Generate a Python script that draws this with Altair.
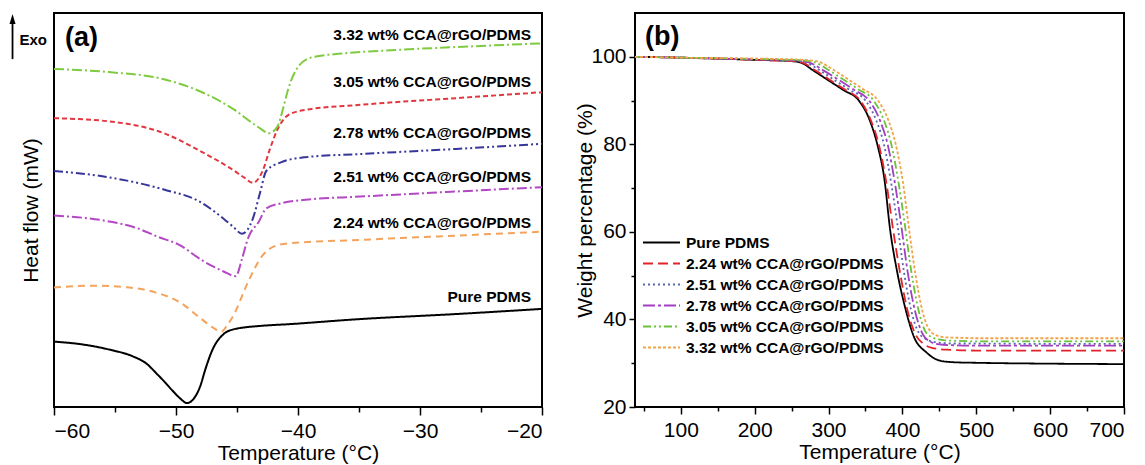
import altair as alt
import pandas as pd

FONT = "Liberation Sans"

# ---------------- (a) DSC curves ----------------
series = ["Pure PDMS", "2.24 wt% CCA@rGO/PDMS", "2.51 wt% CCA@rGO/PDMS",
          "2.78 wt% CCA@rGO/PDMS", "3.05 wt% CCA@rGO/PDMS", "3.32 wt% CCA@rGO/PDMS"]

dsc_T_pure = [-60, -57.5, -55.5, -53.5, -52.5, -51.5, -50.85, -50.3, -49.7, -49.1, -48.5, -48, -47.6, -47, -46.1, -45.3, -43, -40.85, -35, -27, -20]
dsc_H_pure = [16.6, 15.8, 14.6, 12.8, 11.2, 8.2, 6.1, 4.2, 2.3, 1.0, 2.3, 5.4, 9.5, 14.6, 18.5, 19.7, 20.6, 21.0, 22.3, 23.6, 24.9]

dsc_T_224 = [-60, -57, -54.1, -51.7, -49.7, -47.9, -46.9, -46.3, -45.8, -45.3, -44.1, -42.9, -42, -40.8, -35, -27, -20]
dsc_H_224 = [30.3, 30.8, 30.4, 29.1, 26.6, 22.3, 20.0, 19.1, 20.8, 23.2, 31.7, 38.5, 40.7, 41.5, 42.4, 43.5, 44.5]

dsc_T_251 = [-60, -55.5, -53.2, -51.5, -49.7, -47.9, -46.1, -45.1, -44.6, -44.1, -43.2, -42.6, -41.4, -39.4, -34.9, -27, -20]
dsc_H_251 = [48.6, 47.1, 45.4, 43.2, 41.1, 37.3, 34.4, 33.2, 37.5, 42.8, 47.1, 50.4, 51.7, 52.6, 53.4, 54.7, 55.8]

dsc_T_278 = [-60, -55.5, -51, -48.1, -46.1, -45.3, -44.6, -43.7, -43.1, -42.6, -41.4, -39.4, -34.9, -27, -20]
dsc_H_278 = [59.9, 58.3, 55.2, 52.2, 47.8, 45.7, 44.0, 47.8, 54.5, 59.9, 62.1, 63.4, 64.2, 65.5, 66.8]

dsc_T_305 = [-60, -55.5, -51, -48.1, -45.2, -44.4, -43.7, -42.9, -42.3, -41.7, -40.8, -39.4, -34.9, -27, -20]
dsc_H_305 = [73.3, 72.5, 69.5, 65.1, 59.9, 58.2, 56.9, 59.9, 65.5, 70.3, 74.1, 75.4, 76.7, 78.4, 79.9]

dsc_T_332 = [-60, -55.5, -51, -48.1, -45.2, -43.8, -43.1, -42.4, -41.7, -41.2, -40.8, -39.9, -38.8, -36.4, -32, -26, -20]
dsc_H_332 = [85.8, 85.0, 83.2, 80.2, 75.4, 72.2, 70.7, 69.5, 71.1, 76.0, 80.7, 86.7, 88.8, 89.7, 90.6, 91.5, 92.3]

dsc_label_H = [27.8, 46.7, 58.4, 69.5, 82.5, 94.4]

dsc_colors = ["#000000", "#f4a35c", "#b347c4", "#35359a", "#e2373f", "#7fcb3e"]
dsc_dashes = [[1, 0], [7, 5], [10, 3, 2, 3], [9, 3, 2, 3, 2, 3], [5, 3], [10, 3, 2, 3]]

dsc_major = [-60, -50, -40, -30, -20]
dsc_minor = [-55, -45, -35, -25]

# annotation: "Exo" arrow (data units of panel a)
exo_T = -62.83
exo_H = 91.9
arrow_T = -63.4
arrow_H_low = 88.3
arrow_H_high = 97.2
arrow_H_head = 98.5

# ---------------- (b) TGA curves ----------------
tga_T_pure = [38, 100, 200, 250, 262, 280, 300, 320, 341, 356, 366, 376, 383, 393, 403, 415, 433, 453, 473, 500, 600, 700]
tga_W_pure = [100, 99.8, 99.3, 99.0, 98.7, 96.8, 94.6, 92.4, 90.0, 85.4, 80.0, 71.6, 61.0, 50.8, 43.2, 36.3, 32.4, 30.5, 30.2, 30.1, 29.9, 29.8]

tga_T_224 = [38, 100, 200, 250, 264, 282, 302, 322, 343, 358, 368, 379, 387, 397, 407, 418, 428, 440, 460, 500, 600, 700]
tga_W_224 = [100, 99.8, 99.3, 99.0, 98.7, 96.9, 94.7, 92.5, 90.0, 85.2, 80.0, 70.5, 61.0, 50.5, 42.0, 36.5, 34.5, 33.5, 33.1, 32.9, 32.9, 32.9]

tga_T_251 = [38, 100, 200, 255, 268, 288, 308, 328, 350, 365, 375, 385, 393, 402, 412, 422, 432, 445, 470, 500, 600, 700]
tga_W_251 = [100, 99.8, 99.4, 99.1, 98.8, 96.9, 94.7, 92.5, 90.0, 85.3, 80.0, 71.0, 62.0, 51.0, 42.0, 37.0, 35.5, 34.8, 34.5, 34.5, 34.4, 34.4]

tga_T_278 = [38, 100, 200, 258, 272, 293, 314, 334, 355, 370, 380, 390, 398, 407, 417, 428, 437, 450, 470, 500, 600, 700]
tga_W_278 = [100, 99.8, 99.4, 99.1, 98.8, 96.9, 94.7, 92.5, 90.0, 85.3, 80.0, 71.0, 62.0, 51.0, 42.0, 36.5, 35.0, 34.3, 34.1, 34.0, 34.0, 34.0]

tga_T_305 = [38, 100, 200, 262, 280, 300, 320, 340, 361, 375, 385, 395, 403, 412, 422, 432, 442, 455, 475, 500, 600, 700]
tga_W_305 = [100, 99.8, 99.5, 99.2, 98.8, 97.0, 94.8, 92.6, 90.0, 85.5, 80.0, 71.0, 62.0, 51.0, 42.0, 37.0, 35.8, 35.3, 35.1, 35.0, 35.0, 35.0]

tga_T_332 = [38, 100, 200, 266, 286, 306, 326, 346, 367, 381, 391, 401, 408, 417, 427, 437, 447, 460, 480, 500, 600, 700]
tga_W_332 = [100, 99.8, 99.6, 99.3, 98.9, 97.1, 94.9, 92.7, 90.0, 85.5, 80.0, 71.0, 62.0, 51.0, 42.0, 37.5, 36.3, 35.9, 35.8, 35.7, 35.7, 35.7]

tga_colors = ["#000000", "#e3232b", "#5566b0", "#a23fc2", "#68c23c", "#f3a347"]
tga_dashes = [[1, 0], [10, 5], [2, 3], [12, 3, 3, 3], [8, 3, 2, 3, 2, 3], [3, 2]]

tga_major_x = [100, 200, 300, 400, 500, 600, 700]
tga_minor_x = [50, 150, 250, 350, 450, 550, 650]
tga_major_y = [20, 40, 60, 80, 100]
tga_minor_y = [30, 50, 70, 90]

# ---------------- build tables ----------------
dsc_T = [dsc_T_pure, dsc_T_224, dsc_T_251, dsc_T_278, dsc_T_305, dsc_T_332]
dsc_H = [dsc_H_pure, dsc_H_224, dsc_H_251, dsc_H_278, dsc_H_305, dsc_H_332]
rows = []
for i, s in enumerate(series):
    for t, h in zip(dsc_T[i], dsc_H[i]):
        rows.append({"series": s, "order": i, "T": t, "HF": h})
df_dsc = pd.DataFrame(rows)

tga_T = [tga_T_pure, tga_T_224, tga_T_251, tga_T_278, tga_T_305, tga_T_332]
tga_W = [tga_W_pure, tga_W_224, tga_W_251, tga_W_278, tga_W_305, tga_W_332]
rows = []
for i, s in enumerate(series):
    for t, w in zip(tga_T[i], tga_W[i]):
        rows.append({"series": s, "order": i, "T": t, "W": w})
df_tga = pd.DataFrame(rows)

W_A, H_A = 488, 394
W_B, H_B = 489, 394

xa_scale = alt.Scale(domain=[-60, -20], nice=False, zero=False)
ya_scale = alt.Scale(domain=[0, 100], nice=False, zero=False)

lines_a = alt.Chart(df_dsc).mark_line(strokeWidth=2, interpolate="monotone").encode(
    x=alt.X("T:Q", scale=xa_scale,
            axis=alt.Axis(values=dsc_major, tickSize=8, labelPadding=5, orient="bottom",
                          title="Temperature (°C)", titlePadding=1)),
    y=alt.Y("HF:Q", scale=ya_scale,
            axis=alt.Axis(labels=False, ticks=False, domain=False, title="Heat flow (mW)",
                          titlePadding=13)),
    color=alt.Color("series:N", scale=alt.Scale(domain=series, range=dsc_colors), legend=None),
    strokeDash=alt.StrokeDash("series:N", scale=alt.Scale(domain=series, range=dsc_dashes), legend=None),
    order="order:Q",
)

minor_a = alt.Chart(pd.DataFrame({"T": dsc_minor})).mark_point(opacity=0).encode(
    x=alt.X("T:Q", scale=xa_scale,
            axis=alt.Axis(values=dsc_minor, tickSize=5, labels=False, title=None, orient="bottom")),
)

lab_a = alt.Chart(pd.DataFrame({"T": [-20] * 6, "HF": dsc_label_H, "text": series})).mark_text(
    align="right", baseline="middle", dx=-11, font=FONT, fontSize=15.5, fontWeight="bold", color="black"
).encode(x=alt.X("T:Q", scale=xa_scale, axis=None), y=alt.Y("HF:Q", scale=ya_scale), text="text:N")

tag_a = alt.Chart(pd.DataFrame({"T": [-60], "HF": [100], "text": ["(a)"]})).mark_text(
    align="left", baseline="alphabetic", dx=11, dy=33, font=FONT, fontSize=27, fontWeight="bold", color="black"
).encode(x=alt.X("T:Q", scale=xa_scale, axis=None), y=alt.Y("HF:Q", scale=ya_scale), text="text:N")

exo_text = alt.Chart(pd.DataFrame({"T": [exo_T], "HF": [exo_H], "text": ["Exo"]})).mark_text(
    align="left", baseline="alphabetic", font=FONT, fontSize=15, fontWeight="bold", color="black"
).encode(x=alt.X("T:Q", scale=xa_scale, axis=None), y=alt.Y("HF:Q", scale=ya_scale), text="text:N")

exo_shaft = alt.Chart(pd.DataFrame({"T": [arrow_T], "HF": [arrow_H_low], "HF2": [arrow_H_high]})).mark_rule(
    color="black", strokeWidth=1.8
).encode(x=alt.X("T:Q", scale=xa_scale, axis=None), y=alt.Y("HF:Q", scale=ya_scale), y2="HF2:Q")

exo_head = alt.Chart(pd.DataFrame({"T": [arrow_T], "HF": [arrow_H_head]})).mark_point(
    shape="M0,-1L0.6,1L-0.6,1Z", filled=True, color="black", size=100, opacity=1
).encode(x=alt.X("T:Q", scale=xa_scale, axis=None), y=alt.Y("HF:Q", scale=ya_scale))

panel_a = alt.layer(lines_a, minor_a, lab_a, tag_a, exo_text, exo_shaft, exo_head).resolve_axis(
    x="independent").properties(width=W_A, height=H_A)

# ---------------- panel b ----------------
xb_scale = alt.Scale(domain=[38, 700], nice=False, zero=False)
yb_scale = alt.Scale(domain=[20, 110], nice=False, zero=False)

legend_b = alt.Legend(orient="none", legendX=16, legendY=219, title=None, symbolType="M-2,0H2",
                      symbolSize=342, symbolStrokeWidth=2, labelFont=FONT, labelFontSize=15.5,
                      labelFontWeight="bold", labelColor="black", labelOffset=14, rowPadding=2,
                      padding=0, labelLimit=0)

lines_b = alt.Chart(df_tga).mark_line(strokeWidth=1.8, interpolate="monotone").encode(
    x=alt.X("T:Q", scale=xb_scale,
            axis=alt.Axis(values=tga_major_x, tickSize=7, labelPadding=5, orient="bottom",
                          title="Temperature (°C)", titlePadding=1)),
    y=alt.Y("W:Q", scale=yb_scale,
            axis=alt.Axis(values=tga_major_y, tickSize=6, labelPadding=3, orient="left",
                          title="Weight percentage (%)", titlePadding=-5)),
    color=alt.Color("series:N", scale=alt.Scale(domain=series, range=tga_colors), legend=legend_b),
    strokeDash=alt.StrokeDash("series:N", scale=alt.Scale(domain=series, range=tga_dashes), legend=legend_b),
    order="order:Q",
)

minor_bx = alt.Chart(pd.DataFrame({"T": tga_minor_x})).mark_point(opacity=0).encode(
    x=alt.X("T:Q", scale=xb_scale,
            axis=alt.Axis(values=tga_minor_x, tickSize=4, labels=False, title=None, orient="bottom")),
)
minor_by = alt.Chart(pd.DataFrame({"W": tga_minor_y})).mark_point(opacity=0).encode(
    y=alt.Y("W:Q", scale=yb_scale,
            axis=alt.Axis(values=tga_minor_y, tickSize=4, labels=False, title=None, orient="left")),
)

tag_b = alt.Chart(pd.DataFrame({"T": [38], "W": [110], "text": ["(b)"]})).mark_text(
    align="left", baseline="alphabetic", dx=10, dy=31.5, font=FONT, fontSize=27, fontWeight="bold", color="black"
).encode(x=alt.X("T:Q", scale=xb_scale, axis=None), y=alt.Y("W:Q", scale=yb_scale, axis=None), text="text:N")

panel_b = alt.layer(lines_b, minor_bx, minor_by, tag_b).resolve_axis(
    x="independent", y="independent").properties(width=W_B, height=H_B)

chart = alt.hconcat(panel_a, panel_b, spacing=26).resolve_scale(
    color="independent", strokeDash="independent"
).properties(
    padding={"left": 0, "top": 4, "right": 0, "bottom": 0}
).configure_view(
    stroke="black", strokeWidth=2
).configure_axis(
    domain=False, grid=False, labelFont=FONT, labelFontSize=21, labelColor="black",
    titleFont=FONT, titleFontSize=21, titleFontWeight="normal", titleColor="black",
    tickColor="black", tickWidth=1.5
)

chart.save("out.html", embed_options={"renderer": "svg", "actions": False})
